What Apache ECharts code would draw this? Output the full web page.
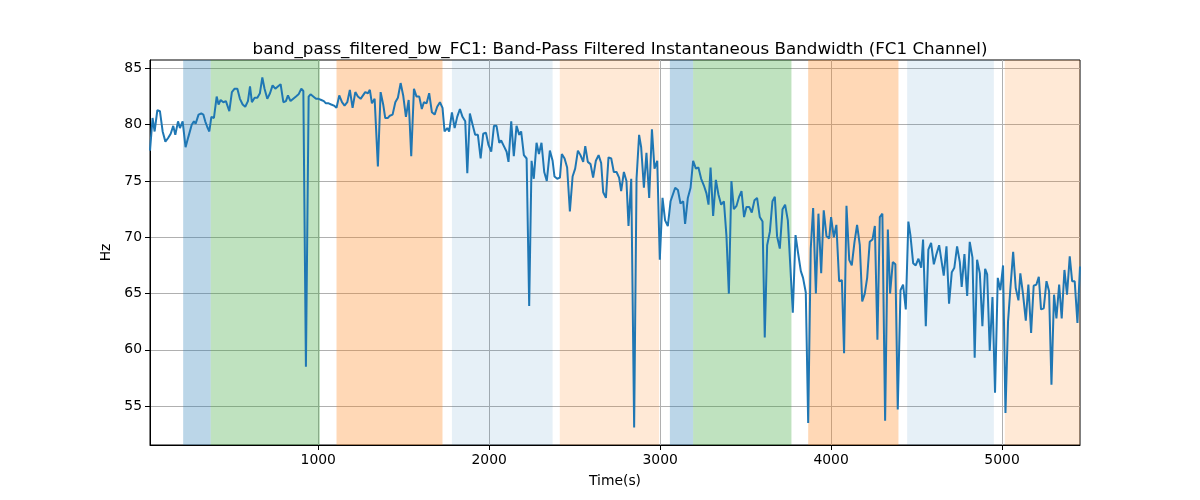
<!DOCTYPE html>
<html>
<head>
<meta charset="utf-8">
<script src="https://cdn.jsdelivr.net/npm/echarts@6/dist/echarts.min.js"></script>
<style>html,body{margin:0;padding:0;background:#fff}#c{width:1200px;height:500px}</style>
</head>
<body>
<div id="c"></div>
<script>
// ---- data ----
const times = [16,31,43,59,74,90,106,121,137,152,164,180,191,207,224,240,260,273,283,300,316,328,339,351,363,375,390,406,417,429,445,460,480,495,511,527,542,558,573,589,601,612,628,644,659,673,686,702,718,733,749,764,780,796,811,823,838,854,870,885,901,913,928,944,955,971,987,1002,1018,1033,1045,1061,1076,1092,
1107,1123,1139,1154,1170,1185,1201,1217,1232,1248,1259,1275,1291,1302,1314,1330,1349,1365,1380,1392,1408,1419,1435,1451,1466,1482,1497,1513,1529,1544,1560,1575,1591,1606,1618,1634,1649,1665,1681,1696,1712,1727,1739,1755,1766,1782,1798,1813,1829,1844,1860,1872,1887,1903,1918,1934,1950,1965,1981,1996,2012,2028,2043,2059,2070,2086,2102,2113,2129,2144,2160,2176,2187,2203,2219,2234,
2248,2261,2277,2291,2306,2322,2337,2355,2371,2382,2398,2414,2425,2441,2456,2472,2488,2503,2519,2534,2550,2562,2577,2593,2608,2624,2640,2655,2667,2683,2698,2714,2729,2745,2760,2772,2788,2803,2815,2831,2848,2862,2877,2889,2905,2920,2936,2952,2967,2983,2998,3014,3029,3045,3061,3072,3088,3104,3119,3135,3146,3162,3178,3193,3209,3224,3240,3256,3271,3283,3295,3310,3326,3341,
3357,3373,3388,3402,3417,3431,3447,3462,3476,3491,3505,3521,3536,3552,3567,3583,3599,3612,3626,3642,3657,3671,3684,3700,3716,3731,3747,3762,3776,3792,3807,3823,3836,3852,3866,3881,3895,3911,3926,3942,3957,3973,3989,4000,4016,4031,4047,4063,4076,4090,4106,4121,4137,4152,4168,4182,4197,4211,4226,4242,4256,4271,4285,4300,4316,4332,4345,4361,4376,4390,4406,4421,4437,4452,
4464,4480,4495,4511,4527,4538,4554,4569,4585,4601,4616,4632,4647,4659,4675,4690,4706,4721,4737,4753,4764,4780,4796,4811,4827,4840,4854,4870,4885,4901,4913,4928,4944,4959,4975,4990,5006,5020,5035,5049,5065,5080,5096,5107,5123,5139,5154,5170,5185,5201,5215,5228,5244,5260,5275,5289,5304,5318,5334,5349,5365,5380,5396,5410,5425,5441,5456];
const bandwidth = [77.7,80.6,79.4,81.3,81.2,79.4,78.5,78.8,79.2,79.9,79.1,80.3,79.7,80.3,78.0,78.9,80.0,80.3,80.1,80.9,81.0,80.9,80.3,79.8,79.4,80.7,80.6,82.5,81.8,82.2,82.0,82.1,81.2,82.9,83.2,83.2,82.3,81.8,81.6,82.1,83.4,82.0,82.4,82.4,82.8,84.2,83.2,82.3,82.8,83.5,83.2,83.4,83.6,82.0,82.1,82.6,82.1,82.3,82.5,82.7,83.2,83.0,58.5,82.5,82.7,82.5,82.3,82.3,82.2,82.1,81.9,81.9,81.8,81.7,
81.5,82.6,82.0,81.7,82.0,83.1,81.5,82.9,82.5,82.3,82.2,82.9,82.8,83.1,81.9,82.3,76.3,82.9,81.8,80.6,80.6,80.8,80.9,82.0,82.4,83.7,82.6,80.7,82.2,77.2,83.2,82.5,82.5,81.4,82.0,81.9,82.8,81.1,80.9,81.6,82.0,81.5,79.4,79.7,79.4,81.1,79.7,80.7,81.4,80.7,80.3,75.7,81.0,80.0,79.1,79.1,77.0,79.2,79.3,78.2,77.6,79.9,79.9,78.4,78.6,78.1,77.6,76.7,80.3,77.2,79.9,79.1,79.4,77.3,77.0,63.9,
76.8,75.2,78.4,77.4,78.4,75.8,75.0,77.7,76.8,75.4,75.2,75.3,77.4,77.0,76.2,72.3,75.4,76.1,77.7,77.3,76.7,78.1,76.7,76.5,75.3,76.8,77.3,76.6,74.0,73.5,77.1,77.0,75.8,75.8,75.3,74.1,75.8,75.0,71.0,75.2,53.1,75.2,79.1,78.0,74.4,77.5,73.5,79.6,76.1,76.8,68.0,73.5,71.5,71.0,73.2,73.1,74.4,74.2,73.0,73.2,71.2,73.5,74.4,76.8,76.1,76.2,75.2,74.6,73.9,72.9,76.2,71.9,75.1,73.8,
72.9,73.2,70.1,65.0,75.0,72.5,72.8,73.6,74.1,71.8,72.7,72.7,72.2,73.3,73.5,71.8,71.4,61.1,69.3,70.5,73.2,73.6,70.1,69.0,72.5,72.9,71.5,67.3,63.3,70.2,68.6,67.0,66.4,65.1,53.5,69.0,72.6,65.0,72.1,66.8,72.4,70.1,69.9,71.8,70.0,71.1,66.1,66.2,59.7,72.8,68.0,67.5,69.6,71.1,69.3,64.3,65.0,66.4,69.6,69.8,71.0,60.9,71.8,72.1,53.7,70.7,65.0,67.8,67.6,54.7,65.3,65.8,63.6,71.4,
70.2,67.7,67.5,68.1,67.3,69.8,62.1,68.9,69.5,67.6,68.5,69.3,67.8,66.6,69.2,64.1,66.9,67.3,69.2,67.8,65.6,68.5,64.8,69.6,68.2,59.3,68.0,66.8,62.1,67.2,66.7,59.9,64.7,56.2,66.4,65.3,67.5,54.4,62.5,65.5,68.7,65.5,64.4,66.8,64.9,62.6,65.8,61.5,65.7,65.8,66.5,63.6,63.7,66.1,65.2,56.9,64.9,62.8,65.8,62.8,67.1,64.9,68.3,66.1,66.1,62.4,67.4];
const xTicks = [1000, 2000, 3000, 4000, 5000];
const yTicks = [55, 60, 65, 70, 75, 80, 85];
const spanStarts = [210, 371, 1107, 1782, 2413, 3057, 3193, 3866, 4445, 5016];
const spanEnds   = [371, 1010, 1727, 2371, 2994, 3193, 3768, 4394, 4952, 5456];
const spanKinds  = ['blue', 'green', 'orange', 'lightblue', 'lightorange', 'blue', 'green', 'orange', 'lightblue', 'lightorange'];

// ---- styles ----
const spanColors = {
  blue: 'rgba(31,119,180,0.3)',
  green: 'rgba(44,160,44,0.3)',
  orange: 'rgba(255,127,14,0.3)',
  lightblue: 'rgba(31,119,180,0.11)',
  lightorange: 'rgba(255,127,14,0.17)'
};
const FONT = 'DejaVu Sans';

const lineData = times.map((t, i) => [t, bandwidth[i]]);
const areas = spanStarts.map((s, i) => [
  { xAxis: s, itemStyle: { color: spanColors[spanKinds[i]] } },
  { xAxis: spanEnds[i] }
]);

const chart = echarts.init(document.getElementById('c'), null, { renderer: 'canvas' });
chart.setOption({
  animation: false,
  backgroundColor: '#fff',
  textStyle: { fontFamily: FONT },
  title: {
    text: 'band_pass_filtered_bw_FC1: Band-Pass Filtered Instantaneous Bandwidth (FC1 Channel)',
    left: 615, top: 36, textAlign: 'center',
    textStyle: { fontFamily: FONT, fontSize: 16.7, fontWeight: 'normal', color: '#000' }
  },
  grid: { left: 150, right: 120, top: 60, bottom: 55, show: true, borderColor: '#000', borderWidth: 1, backgroundColor: 'transparent' },
  xAxis: {
    type: 'value', min: 16, max: 5456,
    name: 'Time(s)', nameLocation: 'middle', nameGap: 29,
    nameTextStyle: { fontFamily: FONT, fontSize: 13.9, color: '#000' },
    axisLine: { show: true, onZero: false, lineStyle: { color: '#000', width: 1 } },
    axisTick: { show: true, length: 5, lineStyle: { color: '#000' }, customValues: xTicks },
    axisLabel: { customValues: xTicks, margin: 8, fontFamily: FONT, fontSize: 13.9, color: '#000', formatter: v => String(v) },
    splitLine: { show: true, lineStyle: { color: '#b0b0b0', width: 1 } }
  },
  yAxis: {
    type: 'value', min: 51.55, max: 85.75,
    name: 'Hz', nameLocation: 'middle', nameGap: 33, nameRotate: 90,
    nameTextStyle: { fontFamily: FONT, fontSize: 13.9, color: '#000' },
    axisLine: { show: true, onZero: false, lineStyle: { color: '#000', width: 1 } },
    axisTick: { show: true, length: 5, lineStyle: { color: '#000' }, customValues: yTicks },
    axisLabel: { customValues: yTicks, margin: 8, fontFamily: FONT, fontSize: 13.9, color: '#000', formatter: v => String(v) },
    splitLine: { show: true, lineStyle: { color: '#b0b0b0', width: 1 } }
  },
  series: [{
    type: 'line',
    data: lineData,
    showSymbol: false,
    symbol: 'none',
    lineStyle: { color: '#1f77b4', width: 2 },
    itemStyle: { color: '#1f77b4' },
    z: 5,
    markArea: { silent: true, data: areas }
  }]
});
</script>
</body>
</html>
